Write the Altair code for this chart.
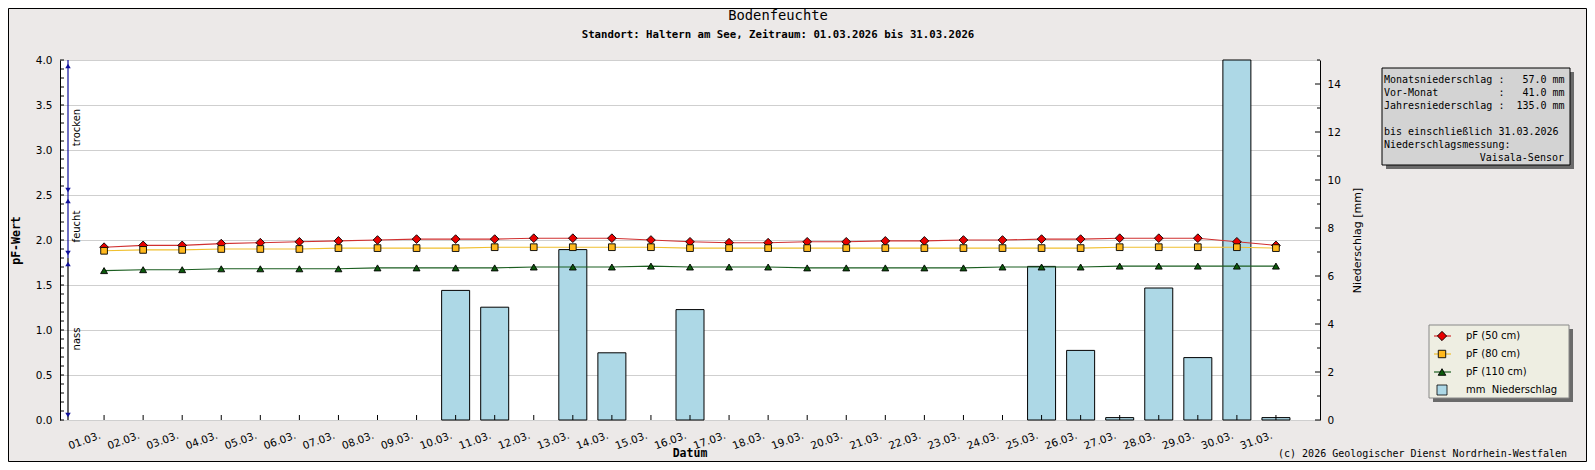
import altair as alt
import pandas as pd
import numpy as np

# ---------------- data ----------------
days = list(range(1, 32))
date_labels = [f"{d:02d}.03." for d in days]

pf_50 = [1.92, 1.94, 1.94, 1.96, 1.97, 1.98, 1.99, 2.00, 2.01, 2.01,
         2.01, 2.02, 2.02, 2.02, 2.00, 1.98, 1.97, 1.97, 1.98, 1.98,
         1.99, 1.99, 2.00, 2.00, 2.01, 2.01, 2.02, 2.02, 2.02, 1.98, 1.94]
pf_80 = [1.88, 1.89, 1.89, 1.90, 1.90, 1.90, 1.91, 1.91, 1.91, 1.91,
         1.92, 1.92, 1.92, 1.92, 1.92, 1.91, 1.91, 1.91, 1.91, 1.91,
         1.91, 1.91, 1.91, 1.91, 1.91, 1.91, 1.92, 1.92, 1.92, 1.92, 1.91]
pf_110 = [1.66, 1.67, 1.67, 1.68, 1.68, 1.68, 1.68, 1.69, 1.69, 1.69,
          1.69, 1.70, 1.70, 1.70, 1.71, 1.70, 1.70, 1.70, 1.69, 1.69,
          1.69, 1.69, 1.69, 1.70, 1.70, 1.70, 1.71, 1.71, 1.71, 1.71, 1.71]
rain_mm = [0, 0, 0, 0, 0, 0, 0, 0, 0, 5.4,
           4.7, 0, 7.1, 2.8, 0, 4.6, 0, 0, 0, 0,
           0, 0, 0, 0, 6.4, 2.9, 0.1, 5.5, 2.6, 15.0, 0.1]

series_names = ["pF (50 cm)", "pF (80 cm)", "pF (110 cm)"]
series_values = [pf_50, pf_80, pf_110]
rain_name = "mm  Niederschlag"

zone_names = ["trocken", "feucht", "nass"]
zone_hi = [4.0, 2.5, 1.8]
zone_lo = [2.5, 1.8, 0.0]

pf_label_values = [0.0, 0.5, 1.0, 1.5, 2.0, 2.5, 3.0, 3.5, 4.0]
mm_label_values = [0, 2, 4, 6, 8, 10, 12, 14]

title_text = "Bodenfeuchte"
subtitle_text = "Standort: Haltern am See, Zeitraum: 01.03.2026 bis 31.03.2026"
x_title = "Datum"
info_lines = [
    "Monatsniederschlag :   57.0 mm",
    "Vor-Monat          :   41.0 mm",
    "Jahresniederschlag :  135.0 mm",
    "",
    "bis einschließlich 31.03.2026",
    "Niederschlagsmessung:",
]
info_last = "Vaisala-Sensor"
copyright_text = "(c) 2026 Geologischer Dienst Nordrhein-Westfalen"

# ---------------- styles ----------------
W, H = 1260, 360
line_colors = ["#D03030", "#F0C030", "#1B5E20"]
fill_colors = ["#E80000", "#FFB81C", "#0B5A0B"]
shapes = ["diamond", "square", "triangle-up"]
sizes = [76, 45, 48]
bar_fill = "#ADD8E6"
navy = "#10109A"
SANS = "DejaVu Sans"
MONO = "DejaVu Sans Mono"


def nb(s):
    return s.replace(" ", "\u00a0")


x_scale = alt.Scale(domain=[0, 32], nice=False, zero=False)
pf_scale = alt.Scale(domain=[0, 4], nice=False)
mm_scale = alt.Scale(domain=[0, 15], nice=False)

x_axis = alt.Axis(orient="bottom", values=days, ticks=False, grid=False, labels=False,
                  domainColor="black", title=None)
pf_axis = alt.Axis(
    orient="left", values=pf_label_values, format=".1f", ticks=False,
    grid=True, gridColor="#CFCFCF", domainColor="black",
    labelPadding=8, labelFont=SANS, labelFontSize=10.5, labelColor="black",
    title="pF-Wert", titleFont=MONO, titleFontWeight="bold", titleFontSize=11.5,
    titleAngle=270, titlePadding=14,
)
mm_axis = alt.Axis(
    orient="right", values=mm_label_values, format="d", ticks=False,
    grid=False, domainColor="black", labelPadding=7, labelFont=SANS, labelFontSize=10.5,
    labelColor="black", title="Niederschlag [mm]", titleFont=SANS, titleFontWeight="normal",
    titleFontSize=11, titleAngle=270, titleX=37, titleY=180, titleAlign="center",
    titleBaseline="middle",
)

layers = []

# ---------------- precipitation (right axis) ----------------
rain_df = pd.DataFrame({"day": days, "mm": rain_mm})
layers.append(alt.Chart(rain_df).transform_filter("datum.mm > 0").mark_bar(
    size=28, fill=bar_fill, stroke="black", strokeWidth=1
).encode(
    x=alt.X("day:Q", scale=x_scale, axis=x_axis),
    y=alt.Y("mm:Q", scale=mm_scale, axis=mm_axis),
))
mm_ticks = pd.DataFrame({"v": list(range(0, 16))})
layers.append(alt.Chart(mm_ticks).transform_filter("datum.v % 2 == 0").mark_rule(
    color="black", strokeWidth=1
).encode(x=alt.value(W - 5), x2=alt.value(W), y=alt.Y("v:Q", scale=mm_scale, axis=None)))
layers.append(alt.Chart(mm_ticks).transform_filter("datum.v % 2 == 1").mark_rule(
    color="black", strokeWidth=1
).encode(x=alt.value(W - 3), x2=alt.value(W), y=alt.Y("v:Q", scale=mm_scale, axis=None)))

# ---------------- pF (left axis) ----------------
lt_df = pd.DataFrame({"v": np.round(np.arange(0, 4.001, 0.1), 1)})
layers.append(alt.Chart(lt_df).mark_rule(color="black", strokeWidth=1).encode(
    x=alt.value(0), x2=alt.value(4), y=alt.Y("v:Q", scale=pf_scale, axis=pf_axis)
))

# x ticks, x tick labels and x title
xl_df = pd.DataFrame({"day": days, "label": date_labels})
layers.append(alt.Chart(xl_df).mark_rule(color="black", strokeWidth=1).encode(
    x=alt.X("day:Q", scale=x_scale, axis=None), y=alt.value(H), y2=alt.value(H - 5)
))
layers.append(alt.Chart(xl_df).mark_text(
    angle=340, align="right", baseline="middle", font=SANS, fontSize=10.5, color="black", dx=-4
).encode(
    x=alt.X("day:Q", scale=x_scale, axis=None), y=alt.value(H + 14), text="label:N"
))

for i, name in enumerate(series_names):
    df = pd.DataFrame({"day": days, "pf": series_values[i]})
    layers.append(alt.Chart(df).mark_line(color=line_colors[i], strokeWidth=1.1).encode(
        x=alt.X("day:Q", scale=x_scale, axis=None),
        y=alt.Y("pf:Q", scale=pf_scale, axis=None),
    ))
    layers.append(alt.Chart(df).mark_point(
        shape=shapes[i], filled=True, fill=fill_colors[i], stroke="black",
        strokeWidth=0.9, size=sizes[i], opacity=1
    ).encode(
        x=alt.X("day:Q", scale=x_scale, axis=None),
        y=alt.Y("pf:Q", scale=pf_scale, axis=None),
    ))

zone_df = pd.DataFrame({"zone": zone_names, "hi": zone_hi, "lo": zone_lo})
layers.append(alt.Chart(zone_df).mark_rule(strokeWidth=1.2).encode(
    x=alt.value(8),
    y=alt.Y("hi:Q", scale=pf_scale, axis=None),
    y2="lo:Q",
    color=alt.condition("datum.zone == 'nass'", alt.value("black"), alt.value(navy)),
))
layers.append(alt.Chart(zone_df).mark_point(
    shape="triangle-up", filled=True, fill=navy, size=30, opacity=1, yOffset=6
).encode(x=alt.value(8), y=alt.Y("hi:Q", scale=pf_scale, axis=None)))
layers.append(alt.Chart(zone_df).mark_point(
    shape="triangle-down", filled=True, fill=navy, size=30, opacity=1, yOffset=-5
).encode(x=alt.value(8), y=alt.Y("lo:Q", scale=pf_scale, axis=None)))
layers.append(alt.Chart(zone_df).transform_calculate(mid="(datum.hi + datum.lo) / 2").mark_text(
    angle=270, font=SANS, fontSize=10, color="black", align="center", baseline="middle"
).encode(x=alt.value(17), y=alt.Y("mid:Q", scale=pf_scale, axis=None), text="zone:N"))

# ---------------- decorations ----------------
one = pd.DataFrame({"k": [0]})


def txt(s, x, y, **kw):
    return alt.Chart(one).mark_text(text=s, **kw).encode(x=alt.value(x), y=alt.value(y))


def box(x1, y1, x2, y2, **kw):
    return alt.Chart(one).mark_rect(**kw).encode(
        x=alt.value(x1), x2=alt.value(x2), y=alt.value(y1), y2=alt.value(y2)
    )


layers += [
    txt(title_text, 718, -44, font=MONO, fontSize=13.8, align="center", baseline="middle", color="black"),
    txt(subtitle_text, 718, -25, font=MONO, fontSize=10.7, fontWeight="bold", align="center",
        baseline="middle", color="black"),
    txt(x_title, W / 2, H + 34, font=MONO, fontSize=11.5, fontWeight="bold", align="center",
        baseline="middle", color="black"),
    box(1326, 12, 1514, 109, fill="#6A6A6A"),
    box(1322, 8, 1510, 105, fill="#D3D3D3", stroke="black", strokeWidth=1),
]
for i, line in enumerate(info_lines):
    if line:
        layers.append(txt(nb(line), 1324, 19.5 + i * 13.1, font=MONO, fontSize=10,
                          align="left", baseline="middle", color="black"))
layers.append(txt(info_last, 1504, 19.5 + 6 * 13.1, font=MONO, fontSize=10,
                  align="right", baseline="middle", color="black"))

layers += [
    box(1373, 269, 1513, 342, fill="#6A6A6A"),
    box(1369, 265, 1509, 338, fill="#EEEEE2", stroke="#888888", strokeWidth=1),
]
legend_names = series_names + [rain_name]
for i, name in enumerate(legend_names):
    yy = 276 + i * 18
    if i < 3:
        layers.append(alt.Chart(one).mark_rule(color=line_colors[i], strokeWidth=1.2).encode(
            x=alt.value(1374), x2=alt.value(1391), y=alt.value(yy)))
        layers.append(alt.Chart(one).mark_point(
            shape=shapes[i], filled=True, fill=fill_colors[i], stroke="black", strokeWidth=0.9,
            size=sizes[i] + 10, opacity=1).encode(x=alt.value(1382), y=alt.value(yy)))
    else:
        layers.append(alt.Chart(one).mark_point(
            shape="square", filled=True, fill=bar_fill, stroke="black", strokeWidth=0.8,
            size=100, opacity=1).encode(x=alt.value(1382), y=alt.value(yy)))
    layers.append(txt(nb(name), 1406, yy, font=SANS, fontSize=10, align="left",
                      baseline="middle", color="black"))

layers.append(txt(copyright_text, 1507, 394, font=MONO, fontSize=10, align="right",
                  baseline="middle", color="black"))
layers.append(box(-51.5, -51.5, 1526.5, 401.5, fillOpacity=0, stroke="black", strokeWidth=1))

chart = alt.layer(*layers).resolve_scale(y="independent").properties(
    width=W, height=H,
    autosize=alt.AutoSizeParams(type="none"),
    padding={"left": 52, "top": 52, "right": 267, "bottom": 42},
).configure(background="#ECE9E8").configure_view(fill="white", stroke="transparent")

chart.save("out.html", embed_options={"renderer": "svg", "actions": False})
